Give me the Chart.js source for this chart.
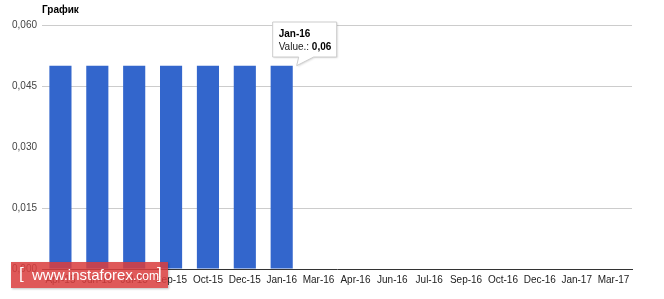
<!DOCTYPE html>
<html>
<head>
<meta charset="utf-8">
<script src="https://cdn.jsdelivr.net/npm/chart.js@4.4.1/dist/chart.umd.min.js"></script>
<style>
  html, body { margin: 0; padding: 0; background: #fff; }
  #wrap { position: relative; width: 664px; height: 299px; }
  #mark {
    position: absolute; left: 11px; top: 262px; width: 157px; height: 26px;
    background: rgba(218, 62, 62, 0.86); color: #fff;
    font-family: 'Liberation Sans', Arial, sans-serif; line-height: 26px;
    white-space: nowrap; box-shadow: 1px 1px 2px rgba(0,0,0,0.25);
  }
  #mark .br { font-size: 17px; position: absolute; top: -1px; }
  #mark .big { font-size: 15px; }
  #mark .small { font-size: 12px; }
</style>
</head>
<body>
<div id="wrap">
  <canvas id="chart" width="664" height="299"></canvas>
  <div id="mark"><span class="br" style="left:8px">[</span><span style="position:absolute;left:21px"><span class="big">www.instaforex</span><span class="small">.com</span></span><span class="br" style="left:146px">]</span></div>
</div>
<script>
const labels = ['Apr-15', 'Jun-15', 'Jul-15', 'Sep-15', 'Oct-15', 'Dec-15', 'Jan-16', 'Mar-16',
  'Apr-16', 'Jun-16', 'Jul-16', 'Sep-16', 'Oct-16', 'Dec-16', 'Jan-17', 'Mar-17'];
const values = [0.05, 0.05, 0.05, 0.05, 0.05, 0.05, 0.05, null,
  null, null, null, null, null, null, null, null];
const yTicks = [0, 0.015, 0.03, 0.045, 0.06];
const chartTitle = 'График';
const tipIndex = 6;
const tipTitle = 'Jan-16';
const tipLabel = 'Value.: ';
const tipValue = '0,06';

const FONT = "'Liberation Sans', Arial, sans-serif";

// title + the fixed tooltip box from the picture
const extras = {
  id: 'extras',
  afterDraw(chart) {
    const ctx = chart.ctx;
    ctx.save();
    ctx.fillStyle = '#000';
    ctx.font = 'bold 10px ' + FONT;
    ctx.textBaseline = 'middle';
    ctx.fillText(chartTitle, 42, 10);

    const bar = chart.getDatasetMeta(0).data[tipIndex];
    const bx = bar.x - 9, by = 22, bw = 64, bh = 35;
    ctx.beginPath();
    ctx.moveTo(bx, by);
    ctx.lineTo(bx + bw, by);
    ctx.lineTo(bx + bw, by + bh);
    ctx.lineTo(bar.x + 32, by + bh);
    ctx.lineTo(bar.x + 15, bar.y);
    ctx.lineTo(bar.x + 17, by + bh);
    ctx.lineTo(bx, by + bh);
    ctx.closePath();
    ctx.shadowColor = 'rgba(0,0,0,0.15)';
    ctx.shadowBlur = 2;
    ctx.shadowOffsetX = 1;
    ctx.shadowOffsetY = 1;
    ctx.fillStyle = '#fff';
    ctx.fill();
    ctx.shadowColor = 'transparent';
    ctx.strokeStyle = '#cccccc';
    ctx.lineWidth = 1;
    ctx.stroke();

    ctx.fillStyle = '#000';
    ctx.font = 'bold 10px ' + FONT;
    ctx.fillText(tipTitle, bx + 6, by + 12);
    ctx.font = '10px ' + FONT;
    ctx.fillStyle = '#222';
    ctx.fillText(tipLabel, bx + 6, by + 25);
    const w = ctx.measureText(tipLabel).width;
    ctx.font = 'bold 10px ' + FONT;
    ctx.fillStyle = '#000';
    ctx.fillText(tipValue, bx + 6 + w, by + 25);
    ctx.restore();
  }
};

new Chart(document.getElementById('chart'), {
  type: 'bar',
  data: {
    labels: labels,
    datasets: [{
      label: 'Value',
      data: values,
      backgroundColor: '#3366cc',
      categoryPercentage: 1,
      barPercentage: 0.6
    }]
  },
  options: {
    responsive: false,
    animation: false,
    layout: { padding: { top: 25, right: 32, bottom: 0, left: 0 } },
    plugins: {
      legend: { display: false },
      tooltip: { enabled: false },
      title: { display: false }
    },
    scales: {
      x: {
        grid: { display: false, drawTicks: false },
        border: { color: '#333333', width: 1 },
        ticks: {
          color: '#222222', font: { family: FONT, size: 10 },
          maxRotation: 0, autoSkip: false, padding: 5
        },
        afterFit: s => { s.height = 30; }
      },
      y: {
        min: 0,
        max: 0.06,
        afterBuildTicks: s => { s.ticks = yTicks.map(v => ({ value: v })); },
        grid: {
          drawTicks: false,
          color: c => (c.tick && (c.tick.value === 0.03 || c.tick.value === 0)) ? 'rgba(0,0,0,0)' : '#cccccc'
        },
        border: { display: false },
        ticks: {
          color: '#444444', font: { family: FONT, size: 10 }, padding: 5,
          callback: v => v.toFixed(3).replace('.', ',')
        },
        afterFit: s => { s.width = 42; }
      }
    }
  },
  plugins: [extras]
});
</script>
</body>
</html>
